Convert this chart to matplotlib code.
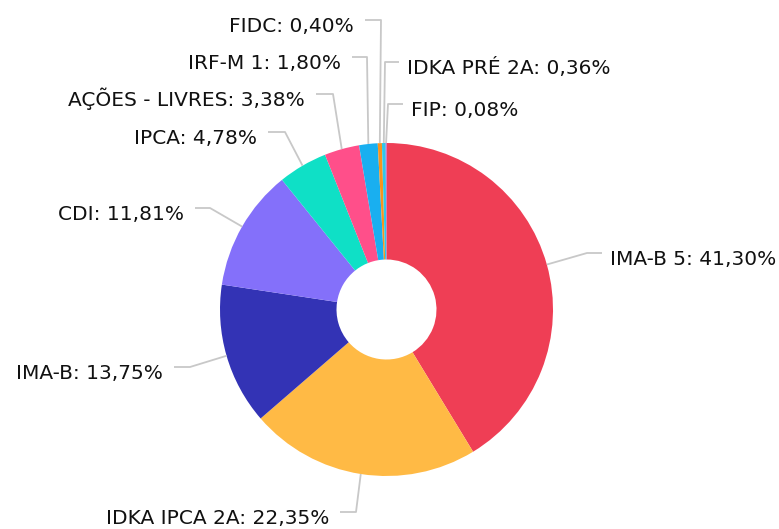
import numpy as np
import matplotlib.pyplot as plt

# slice data, clockwise from 12 o'clock
labels = ['IMA-B 5', 'IDKA IPCA 2A', 'IMA-B', 'CDI', 'IPCA', 'AÇÕES - LIVRES',
          'IRF-M 1', 'FIDC', 'IDKA PRÉ 2A', 'FIP']
values = [41.30, 22.35, 13.75, 11.81, 4.78, 3.38, 1.80, 0.40, 0.36, 0.08]
colors = ['#EF3E55', '#FFBA45', '#3333B5', '#8470FA', '#0FE0C6', '#FF4F8A',
          '#19AFF0', '#F7931E', '#2FC8E8', '#A05CE0']

W, H = 779, 529
cx, cy = 386.5, 309.5   # pixel coords, top origin
r_out, r_in = 166.5, 50

# label layout: (leader y, side, elbow x near text, elbow x near pie), top-origin pixels
layout = {
    'IMA-B 5':        (253, 'right', 602, 587),
    'IDKA IPCA 2A':   (512, 'left', 340, 356),
    'IMA-B':          (367, 'left', 174, 190),
    'CDI':            (208, 'left', 195, 210),
    'IPCA':           (132, 'left', 268, 285),
    'AÇÕES - LIVRES': (94, 'left', 316, 333),
    'IRF-M 1':        (57, 'left', 352, 367),
    'FIDC':           (20, 'left', 365, 381),
    'IDKA PRÉ 2A':    (62, 'right', 399, 385),
    'FIP':            (104, 'right', 403, 388),
}

fig = plt.figure(figsize=(W / 100, H / 100), dpi=100)
ax = fig.add_axes([0, 0, 1, 1])
wedges, _ = ax.pie(values, colors=colors, startangle=90, counterclock=False,
                   center=(cx, H - cy), radius=r_out, frame=False,
                   wedgeprops=dict(width=r_out - r_in, edgecolor='none', linewidth=0))

for w, lab, val in zip(wedges, labels, values):
    mid = np.deg2rad((w.theta1 + w.theta2) / 2)
    axp = cx + r_out * np.cos(mid)
    ayp = (H - cy) + r_out * np.sin(mid)
    ly, side, x_text, x_pie = layout[lab]
    yy = H - ly
    ax.plot([x_text, x_pie, axp], [yy, yy, ayp], color='#C8C8C8', lw=1.3,
            solid_capstyle='butt', zorder=1)
    txt = f'{lab}: {val:.2f}%'.replace('.', ',')
    if side == 'left':
        ax.text(x_text - 11, yy - 12, txt, ha='right', va='baseline',
                fontsize=14.5, color='#111111')
    else:
        ax.text(x_text + 8, yy - 12, txt, ha='left', va='baseline',
                fontsize=14.5, color='#111111')

ax.set_xlim(0, W)
ax.set_ylim(0, H)
ax.axis('off')
fig.savefig('out.png', dpi=100)
